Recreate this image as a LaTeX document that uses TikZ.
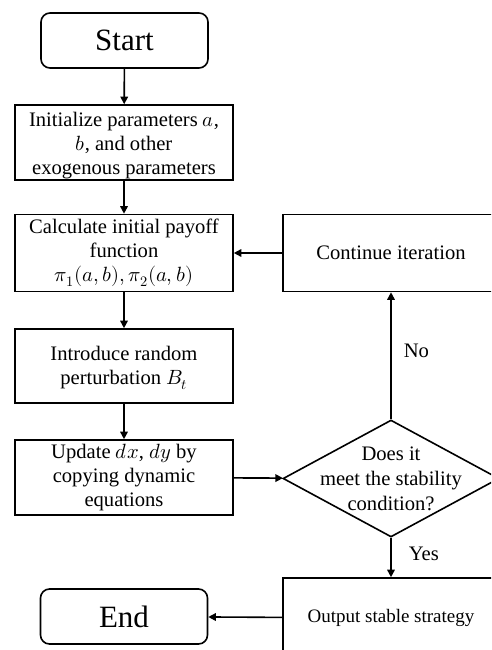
\documentclass[tikz,border=0pt]{standalone}
\usepackage{fontspec}
\usepackage{unicode-math}
\setmainfont{Liberation Serif}
\setmathfont{Latin Modern Math}
\usetikzlibrary{shapes.geometric,arrows.meta}
\begin{document}
\begin{tikzpicture}[x=1pt,y=-1pt,
  base/.style={draw, line width=1.6pt, inner sep=2pt, align=center, font=\fontsize{20.6}{24}\selectfont},
  term/.style={base, rounded corners=9pt, minimum width=167pt, minimum height=55pt, font=\fontsize{31}{34}\selectfont},
  proc/.style={base, minimum width=218pt},
  side/.style={base, minimum width=216pt},
  arr/.style={line width=1.6pt, -{Triangle[length=7.5pt,width=7.5pt]}},
  lbl/.style={font=\fontsize{20.6}{24}\selectfont, inner sep=0pt}
]
\useasboundingbox (0,0) rectangle (491,650);
\clip (0,0) rectangle (491,650);
\fill[white] (0,0) rectangle (491,650);

\node[term] (start) at (124.5,40.5) {Start};
\node[proc, minimum height=75pt] (init) at (124,142.5) {};
\node[lbl, align=center] (inittext) at (124,146) {Initialize parameters $a$,\\$b$, and other\\exogenous parameters};
\node[proc, minimum height=77pt] (calc) at (124,253) {};
\node[lbl, align=center] (calctext) at (124,253) {Calculate initial payoff\\function\\$\pi_1(a,b),\pi_2(a,b)$};
\node[proc, minimum height=74pt] (intro) at (124,366) {};
\node[lbl, align=center] (introtext) at (124,368) {Introduce random\\perturbation $B_t$};
\node[proc, minimum height=75pt] (upd) at (124,477.5) {};
\node[lbl, align=center] (updtext) at (124,478) {Update $dx$, $dy$ by\\copying dynamic\\equations};
\node[side, minimum height=77pt] (cont) at (391,253) {Continue iteration};
\node[diamond, draw, line width=1.6pt, minimum width=216pt, minimum height=117pt, inner sep=0pt] (dec) at (391,478.5) {};
\node[lbl, align=center, font=\fontsize{20.6}{25}\selectfont] (dectext) at (391,479) {Does it\\meet the stability\\condition?};
\node[side, minimum height=80pt, font=\fontsize{19}{22}\selectfont] (out) at (391,618) {Output stable strategy};
\node[term] (end) at (124,616.5) {End};

\draw[arr] (start) -- (init);
\draw[arr] (init) -- (calc);
\draw[arr] (calc) -- (intro);
\draw[arr] (intro) -- (upd);
\draw[arr] (upd) -- (dec);
\draw[arr] (dec.north) -- node[lbl, right=12pt, pos=0.54] {No} (cont.south);
\draw[arr] (cont) -- (calc);
\draw[arr] (dec.south) -- node[lbl, right=17pt, pos=0.4] {Yes} (out.north);
\draw[arr] (out) -- (end);
\end{tikzpicture}
\end{document}
